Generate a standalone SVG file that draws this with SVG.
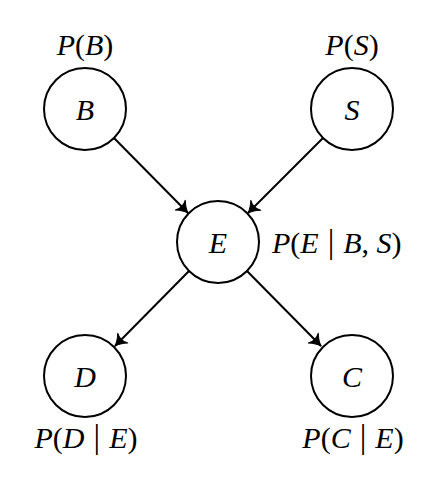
<svg xmlns="http://www.w3.org/2000/svg" width="448" height="480" viewBox="0 0 448 480">
  <style>
    .node circle { fill: #ffffff; stroke: #000000; stroke-width: 2; }
    text { font-family: "Liberation Serif", serif; font-style: italic; font-size: 30px; fill: #000000; }
    .up { font-style: normal; }
    .bar { font-style: normal; font-size: 33px; }
    .mid { text-anchor: middle; }
    .edge { stroke: #000000; stroke-width: 2; fill: none; marker-end: url(#arrow); }
  </style>
  <defs>
    <!-- curved barb arrowhead, tip at the line end -->
    <marker id="arrow" viewBox="-12 -8 14 16" refX="0" refY="0" markerWidth="14" markerHeight="16" markerUnits="userSpaceOnUse" orient="auto">
      <path d="M-11,-7 Q-5,-1.5 0,0 Q-5,1.5 -11,7 Q-7,0 -11,-7 Z" fill="#000" stroke="#000" stroke-width="1" stroke-linejoin="round"/>
    </marker>
  </defs>

  <!-- connectors -->
  <g id="edges">
    <line class="edge" x1="114" y1="138" x2="188" y2="213"/>
    <line class="edge" x1="323" y1="138" x2="248" y2="213"/>
    <line class="edge" x1="189" y1="271" x2="115" y2="346"/>
    <line class="edge" x1="247" y1="271" x2="321" y2="346"/>
  </g>

  <!-- nodes -->
  <g id="node-B" class="node">
    <circle cx="85" cy="109" r="41"/>
    <text class="mid" x="85" y="120">B</text>
    <text class="mid" x="85" y="55">P<tspan class="up">(</tspan>B<tspan class="up">)</tspan></text>
  </g>
  <g id="node-S" class="node">
    <circle cx="352" cy="109" r="41"/>
    <text class="mid" x="352" y="120">S</text>
    <text class="mid" x="352" y="55">P<tspan class="up">(</tspan>S<tspan class="up">)</tspan></text>
  </g>
  <g id="node-E" class="node">
    <circle cx="218" cy="242" r="41"/>
    <text class="mid" x="218" y="253">E</text>
    <text x="272" y="253">P<tspan class="up">(</tspan>E<tspan class="bar" dx="9">|</tspan><tspan dx="9">B</tspan><tspan class="up">,</tspan> S<tspan class="up">)</tspan></text>
  </g>
  <g id="node-D" class="node">
    <circle cx="85" cy="376" r="41"/>
    <text class="mid" x="85" y="387">D</text>
    <text class="mid" x="86" y="448">P<tspan class="up">(</tspan>D<tspan class="bar" dx="9">|</tspan><tspan dx="9">E</tspan><tspan class="up">)</tspan></text>
  </g>
  <g id="node-C" class="node">
    <circle cx="352" cy="376" r="41"/>
    <text class="mid" x="352" y="387">C</text>
    <text class="mid" x="353" y="448">P<tspan class="up">(</tspan>C<tspan class="bar" dx="9">|</tspan><tspan dx="9">E</tspan><tspan class="up">)</tspan></text>
  </g>
</svg>
